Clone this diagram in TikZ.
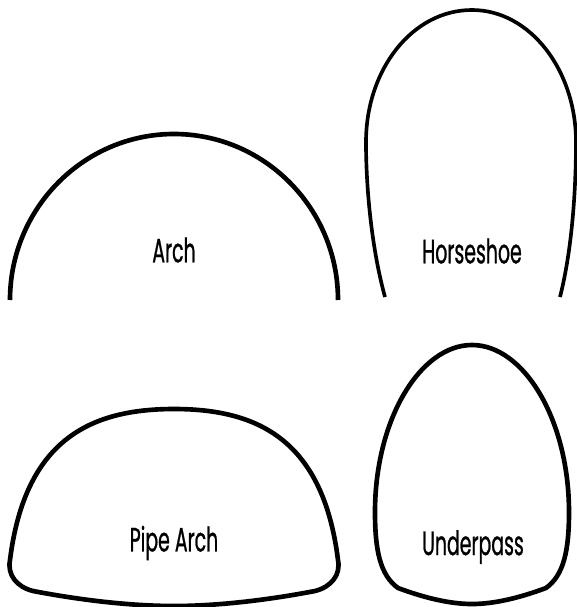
\documentclass[tikz,border=0pt]{standalone}
\usepackage{fontspec}
\setmainfont[FakeStretch=0.56,FakeBold=0.7]{Poppins}
\tikzset{
  culvert/.style={line width=3.3pt, line join=round, draw=black},
  culvertThin/.style={culvert, line width=2.6pt},
  shapeLabel/.style={font=\fontsize{24}{28}\selectfont, text=black, inner sep=0pt}
}
\begin{document}
\begin{tikzpicture}[x=0.025cm,y=-0.025cm]
\path[use as bounding box] (0,0) rectangle (577,607);
\fill[white] (0,0) rectangle (577,607);

% top row
\draw[culvert] (10,300) .. controls (10,208) and (84,134) .. (174,134)
  .. controls (264,134) and (338,208) .. (338,300);
\draw[culvertThin] (385,297) .. controls (372,250) and (366,190) .. (366,142)
  .. controls (366,70) and (412,10) .. (472,10)
  .. controls (530,10) and (576,70) .. (576,142)
  .. controls (576,190) and (572,250) .. (560,297);
\node[shapeLabel] (arch) at (174,250) {Arch};
\node[shapeLabel] (horseshoe) at (472,251) {Horseshoe};

% bottom row
\draw[culvert] (174,409) .. controls (90,409) and (25,440) .. (10,560)
  .. controls (7,575) and (17,587) .. (33,591)
  .. controls (80,600) and (130,606) .. (174,606)
  .. controls (218,606) and (268,600) .. (315,591)
  .. controls (331,587) and (341,575) .. (338,560)
  .. controls (323,440) and (258,409) .. (174,409) -- cycle;
\draw[culvert] (472,345) .. controls (420,345) and (375,420) .. (375,512)
  .. controls (375,550) and (380,575) .. (398,588)
  .. controls (425,598) and (450,604) .. (472,604)
  .. controls (494,604) and (519,598) .. (546,588)
  .. controls (564,575) and (569,550) .. (569,512)
  .. controls (569,420) and (524,345) .. (472,345) -- cycle;
\node[shapeLabel] (pipearch) at (174,543) {Pipe Arch};
\node[shapeLabel] (underpass) at (473,547) {Underpass};
\end{tikzpicture}
\end{document}
